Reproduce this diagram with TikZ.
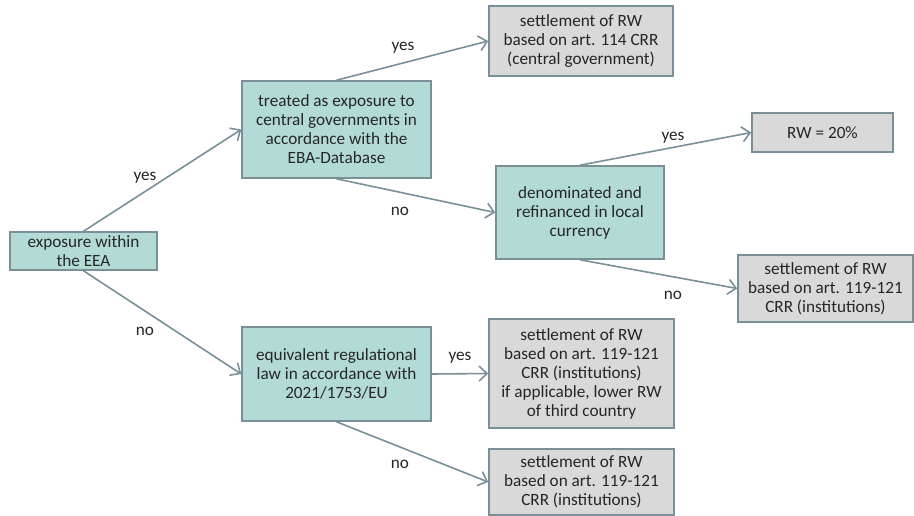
\documentclass[tikz,border=0pt]{standalone}
\usepackage{fontspec}
\setmainfont{Carlito}
\usetikzlibrary{arrows.meta}
\definecolor{tealfill}{HTML}{B3DBD5}
\definecolor{grayfill}{HTML}{D9D9D9}
\definecolor{edgecol}{HTML}{7A9099}
\begin{document}
\begin{tikzpicture}[x=1pt,y=-1pt,
  box/.style={draw=edgecol,line width=1.6pt,inner sep=0pt,align=center,
    font=\fontsize{17.2}{19}\selectfont,text=black!85},
  decbox/.style={box,fill=tealfill},
  resbox/.style={box,fill=grayfill},
  conn/.style={draw=edgecol,line width=1.6pt,-{Straight Barb[length=8pt,width=15pt,line width=1.6pt]}},
  lab/.style={font=\fontsize{17.2}{19}\selectfont,text=black!85,inner sep=0pt}]
\useasboundingbox (0,0) rectangle (914,515);
\node[decbox,minimum width=147pt,minimum height=38pt] (A) at (83.5,251) {exposure within\\the EEA};
\node[decbox,minimum width=189pt,minimum height=97pt] (B) at (336.5,129.5) {treated as exposure to\\central governments in\\accordance with the\\EBA-Database};
\node[resbox,minimum width=184pt,minimum height=70pt] (C) at (581,41) {settlement of RW\\based on art. 114 CRR\\(central government)};
\node[decbox,minimum width=168pt,minimum height=93pt] (D) at (580,212.5) {denominated and\\refinanced in local\\currency};
\node[resbox,minimum width=141pt,minimum height=39pt] (E) at (822.5,132.5) {RW = 20\%};
\node[resbox,minimum width=175pt,minimum height=67pt] (F) at (825.5,288.5) {settlement of RW\\based on art. 119-121\\CRR (institutions)};
\node[decbox,minimum width=189pt,minimum height=94pt] (G) at (336.5,374) {equivalent regulational\\law in accordance with\\2021/1753/EU};
\node[resbox,minimum width=185pt,minimum height=109pt] (H) at (581.5,373.5) {settlement of RW\\based on art. 119-121\\CRR (institutions)\\if applicable, lower RW\\of third country};
\node[resbox,minimum width=185pt,minimum height=66pt] (I) at (581.5,482) {settlement of RW\\based on art. 119-121\\CRR (institutions)};
\draw[conn] (A.north) -- (B.west);
\draw[conn] (A.south) -- (G.west);
\draw[conn] (B.north) -- (C.west);
\draw[conn] (B.south) -- (D.west);
\draw[conn] (D.north) -- (E.west);
\draw[conn] (D.south) -- (F.west);
\draw[conn] (G.east) -- (H.west);
\draw[conn] (G.south) -- (I.west);
\node[lab] (l1) at (145,178) {yes};
\node[lab] (l2) at (145,331) {no};
\node[lab] (l3) at (403,48) {yes};
\node[lab] (l4) at (400,211) {no};
\node[lab] (l5) at (673,138) {yes};
\node[lab] (l6) at (673,295) {no};
\node[lab] (l7) at (460,358) {yes};
\node[lab] (l8) at (400,464) {no};
\end{tikzpicture}
\end{document}
